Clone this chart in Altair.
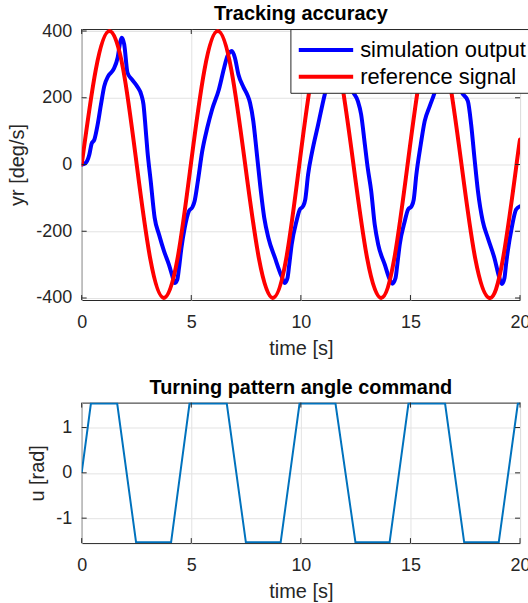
import altair as alt
import pandas as pd

# ---- data ----
sim_points = [
    (0, 0), (0.15, 3), (0.35, 30), (0.45, 62), (0.58, 75), (0.73, 120), (0.88, 180),
    (1.03, 235), (1.21, 265), (1.45, 285), (1.64, 320), (1.76, 368), (1.83, 380),
    (1.94, 360), (2.09, 275), (2.29, 255), (2.52, 235), (2.74, 205), (2.82, 180),
    (2.89, 130), (3.0, 40), (3.15, -50), (3.33, -160), (3.53, -210), (3.76, -260),
    (3.98, -300), (4.14, -335), (4.24, -355), (4.36, -345), (4.44, -310), (4.55, -250),
    (4.70, -190), (4.89, -140), (5.05, -128), (5.15, -110), (5.30, -50), (5.50, 40),
    (5.73, 110), (5.95, 165), (6.26, 225), (6.50, 290), (6.65, 325), (6.85, 340),
    (6.99, 320), (7.15, 270), (7.38, 232), (7.55, 210), (7.68, 185), (7.83, 130),
    (7.98, 40), (8.14, -60), (8.33, -160), (8.52, -220), (8.82, -280), (9.12, -335),
    (9.27, -355), (9.39, -340), (9.47, -300), (9.58, -240), (9.80, -170), (9.95, -135),
    (10.10, -125), (10.20, -105), (10.33, -30), (10.52, 40), (10.79, 120), (11.09, 210),
    (11.30, 260), (11.55, 320), (11.80, 340), (11.95, 320), (12.10, 275), (12.38, 218),
    (12.60, 190), (12.75, 150), (12.92, 60), (13.05, -10), (13.21, -80), (13.37, -180),
    (13.53, -240), (13.83, -300), (14.06, -345), (14.17, -357), (14.32, -340),
    (14.40, -300), (14.51, -240), (14.74, -170), (14.89, -135), (15.05, -125),
    (15.15, -105), (15.27, -30), (15.47, 60), (15.65, 130), (15.88, 175), (16.10, 215),
    (16.30, 265), (16.55, 320), (16.80, 340), (16.95, 320), (17.10, 275), (17.32, 220),
    (17.62, 190), (17.77, 120), (17.92, 20), (18.08, -80), (18.30, -170), (18.53, -220),
    (18.83, -280), (19.06, -340), (19.17, -358), (19.29, -340), (19.36, -300),
    (19.44, -260), (19.62, -190), (19.82, -135), (20.0, -125),
]
ref_points = [
    (0, 0), (0.64, 283), (1.27, 400), (1.90, 283), (2.51, 0), (3.13, -283), (3.75, -400),
    (4.37, -283), (4.98, 0), (5.60, 283), (6.21, 400), (6.83, 283), (7.46, 0),
    (8.09, -283), (8.72, -400), (9.33, -283), (9.93, 0), (10.54, 283), (11.15, 400),
    (11.77, 283), (12.40, 0), (13.03, -283), (13.66, -400), (14.26, -283), (14.87, 0),
    (15.48, 283), (16.08, 400), (16.70, 283), (17.33, 0), (17.96, -283), (18.60, -400),
    (19.22, -283), (19.84, 0), (20.0, 75),
]
u_points = [
    (0, 0), (0.42, 1.53), (1.62, 1.53), (2.48, -1.53), (4.08, -1.53), (4.92, 1.53),
    (6.62, 1.53), (7.49, -1.53), (9.08, -1.53), (9.94, 1.53), (11.58, 1.53),
    (12.49, -1.53), (14.05, -1.53), (14.91, 1.53), (16.58, 1.53), (17.45, -1.53),
    (19.03, -1.53), (19.90, 1.53), (20.0, 1.53),
]
x_ticks = [0, 5, 10, 15, 20]
yr_ticks = [-400, -200, 0, 200, 400]
u_ticks = [-1, 0, 1]
series_names = ["simulation output", "reference signal"]
series_colors = ["#0000ff", "#ff0000"]

FONT = "Liberation Sans"
INK = "#262626"
W, H1, H2 = 440, 272, 141

sim_df = pd.DataFrame(sim_points, columns=["t", "v"])
sim_df["series"] = series_names[0]
ref_df = pd.DataFrame(ref_points, columns=["t", "v"])
ref_df["series"] = series_names[1]
u_df = pd.DataFrame(u_points, columns=["t", "u"])
xt_df = pd.DataFrame({"t": x_ticks})
yt_df = pd.DataFrame({"v": yr_ticks})
ut_df = pd.DataFrame({"u": u_ticks})

label_expr = "datum.value < 0 ? '-' + abs(datum.value) : '' + datum.value"


def x_enc():
    return alt.X("t:Q", scale=alt.Scale(domain=[0, 20], nice=False, zero=False),
                 axis=alt.Axis(values=x_ticks, title="time [s]", labelExpr=label_expr,
                               grid=True, ticks=False, domain=False, labelFlush=False,
                               labelPadding=14, titlePadding=7))


def yr_enc():
    return alt.Y("v:Q", scale=alt.Scale(domain=[-406, 406], nice=False, zero=False),
                 axis=alt.Axis(values=yr_ticks, title="yr [deg/s]", labelExpr=label_expr,
                               grid=True, ticks=False, domain=False, labelFlush=False,
                               labelPadding=10, titlePadding=8))


def u_enc():
    return alt.Y("u:Q", scale=alt.Scale(domain=[-1.55, 1.55], nice=False, zero=False),
                 axis=alt.Axis(values=u_ticks, title="u [rad]", labelExpr=label_expr,
                               grid=True, ticks=False, domain=False, labelFlush=False,
                               labelPadding=10, titlePadding=8))


color = alt.Color(
    "series:N",
    scale=alt.Scale(domain=series_names, range=series_colors),
    legend=alt.Legend(title=None, orient="none", legendX=209.5, legendY=0,
                      symbolType="M-0.9,0H3", symbolSize=784, symbolStrokeWidth=4,
                      labelFontSize=22, labelFont=FONT, labelColor="black",
                      labelOffset=33, labelLimit=400, padding=5, rowPadding=0,
                      strokeColor=INK, fillColor="white"),
)

sim_line = alt.Chart(sim_df).mark_line(strokeWidth=4, interpolate="monotone", clip=True,
                                       strokeCap="round", strokeJoin="round").encode(
    x=x_enc(), y=yr_enc(), color=color)
ref_line = alt.Chart(ref_df).mark_line(strokeWidth=4, interpolate="natural", clip=True,
                                       strokeCap="round", strokeJoin="round").encode(
    x=x_enc(), y=yr_enc(), color=color)


def tick_rules(y_enc_fn, y_df, h):
    b = alt.Chart(xt_df).mark_rule(color=INK, strokeWidth=1).encode(
        x=x_enc(), y=alt.value(h), y2=alt.value(h - 5))
    t = alt.Chart(xt_df).mark_rule(color=INK, strokeWidth=1).encode(
        x=x_enc(), y=alt.value(0), y2=alt.value(5))
    l = alt.Chart(y_df).mark_rule(color=INK, strokeWidth=1).encode(
        y=y_enc_fn(), x=alt.value(0), x2=alt.value(5))
    r = alt.Chart(y_df).mark_rule(color=INK, strokeWidth=1).encode(
        y=y_enc_fn(), x=alt.value(W), x2=alt.value(W - 5))
    return [b, t, l, r]


def title(text, off):
    return alt.Title(text, font=FONT, fontSize=20, fontWeight="bold", color="black",
                     anchor="middle", offset=off, baseline="alphabetic")


top = alt.layer(sim_line, ref_line, *tick_rules(yr_enc, yt_df, H1)).properties(
    width=W, height=H1, title=title("Tracking accuracy", -18))

u_line = alt.Chart(u_df).mark_line(strokeWidth=2, color="#0072bd", clip=True).encode(
    x=x_enc(), y=u_enc())
bottom = alt.layer(u_line, *tick_rules(u_enc, ut_df, H2)).properties(
    width=W, height=H2, title=title("Turning pattern angle command", -12))

chart = alt.vconcat(top, bottom, spacing=18).properties(
    padding={"left": 7, "top": 2, "right": -4, "bottom": 0}
).configure_view(stroke=INK, strokeWidth=1).configure_axis(
    labelFont=FONT, labelFontSize=18, labelColor=INK,
    titleFont=FONT, titleFontSize=20, titleFontWeight="normal", titleColor=INK,
    gridColor="#e3e3e3", gridWidth=1,
)

chart.save("out.html", embed_options={"renderer": "svg", "actions": False})
